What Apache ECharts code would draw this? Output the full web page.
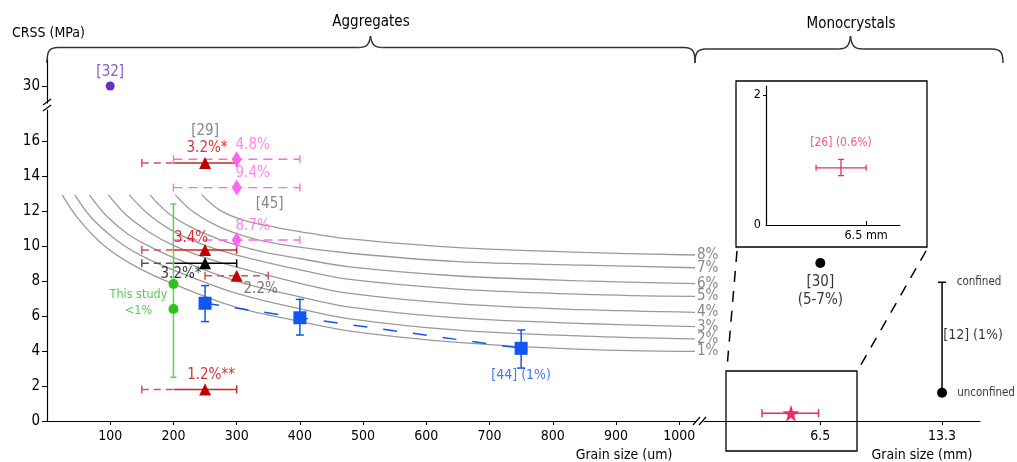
<!DOCTYPE html>
<html><head><meta charset="utf-8">
<script src="https://cdn.jsdelivr.net/npm/echarts@6/dist/echarts.min.js"></script>
<style>html,body{margin:0;padding:0;background:#fff}#c{width:1017px;height:462px}</style>
</head><body><div id="c"></div>
<script>
const FONT = "'DejaVu Sans Condensed','DejaVu Sans',sans-serif";

// ---- tick labels ----
const xTicksUm = [100, 200, 300, 400, 500, 600, 700, 800, 900, 1000];
const yTicks = [0, 2, 4, 6, 8, 10, 12, 14, 16];
const yTicksTop = [30];
const xTicksMm = [6.5, 13.3];
const insetXTicks = [6.5];
const insetYTicks = [0, 2];

// ---- model curves (grain size um, CRSS MPa) ----
const curveNames = ['1%', '2%', '3%', '4%', '5%', '6%', '7%', '8%'];
const curve1 = [[24,12.94],[50,11.55],[90,10.05],[140,8.85],[200,7.84],[300,6.5],[400,5.7],[479,5.15],[650,4.5],[848,4.1],[1025,3.98]];
const curve2 = [[44,12.94],[70,11.65],[110,10.35],[150,9.45],[200,8.64],[300,7.3],[400,6.42],[479,5.85],[650,5.2],[848,4.86],[1025,4.7]];
const curve3 = [[67,12.94],[95,11.7],[130,10.65],[170,9.85],[200,9.35],[300,8.0],[400,7.1],[479,6.52],[650,5.9],[848,5.58],[1025,5.4]];
const curve4 = [[97,12.94],[125,11.8],[160,10.85],[200,10.05],[250,9.35],[300,8.8],[400,7.88],[479,7.3],[650,6.7],[848,6.37],[1025,6.22]];
const curve5 = [[130,12.94],[160,11.85],[200,10.85],[250,10.05],[300,9.5],[400,8.65],[479,8.1],[650,7.55],[848,7.25],[1025,7.13]];
const curve6 = [[163,12.94],[190,11.95],[230,11.05],[280,10.3],[340,9.7],[400,9.3],[479,8.82],[650,8.3],[848,8.02],[1025,7.86]];
const curve7 = [[203,12.94],[230,12.0],[270,11.15],[320,10.5],[380,10.05],[479,9.6],[650,9.12],[848,8.92],[1025,8.77]];
const curve8 = [[245,12.94],[272,12.1],[310,11.5],[360,11.1],[420,10.72],[479,10.42],[650,9.92],[848,9.65],[1025,9.5]];
const curves = [curve1, curve2, curve3, curve4, curve5, curve6, curve7, curve8];

// ---- [32] ----
const ref32D = [100];
const ref32V = [30];

// ---- triangles ([29] etc.) ----
const triD = [250, 250, 250, 300, 250];
const triV = [14.77, 9.79, 9.03, 8.32, 1.81];
const triDashLo = [150, 150, 150, 250, 150];
const triDashHi = [200, 200, 200, 350, 200];
const triSolidLo = [200, 200, 200, null, 200];
const triSolidHi = [300, 300, 300, null, 300];
const triLabels = ['3.2%*', '3.4%', '3.2%*', '2.2%', '1.2%**'];

// ---- diamonds ([45]) ----
const diaD = [300, 300, 300];
const diaV = [14.98, 13.36, 10.36];
const diaLo = [200, 200, 200];
const diaHi = [400, 400, 400];
const diaLabels = ['4.8%', '9.4%', '8.7%'];

// ---- this study ----
const gD = 200;
const gV = [7.84, 6.41];
const gLo = 2.5, gHi = 12.42;

// ---- [44] ----
const bD = [250, 400, 750];
const bV = [6.74, 5.91, 4.16];
const bLo = [5.69, 4.92, 3.03];
const bHi = [7.75, 6.96, 5.21];

// ---- monocrystals (grain size mm) ----
const ref30D = [6.5], ref30V = [9.04];
const ref12D = 13.3, ref12Lo = 1.62, ref12Hi = 7.94;
const starD = 4.86, starV = 0.45, starLo = 3.24, starHi = 6.4;
const insD = 4.87, insV = 0.88, insXLo = 3.25, insXHi = 6.5, insYLo = 0.76, insYHi = 1.01;

// ---- colours ----
const RED = '#c00000', RED_L = '#c92525', RED_D = '#d65050';
const PINK = '#ff66ee', BLUE = '#1155f5', GREEN = '#2cc21a', GREEN_L = '#66cc55';
const PURPLE = '#6a2ec2', CRIMSON = '#e62e66', GRAY_T = '#666';

function errBars(gi, items, color, opts) {
  opts = opts || {};
  return {
    type: 'custom', xAxisIndex: gi, yAxisIndex: gi, z: opts.z || 3, silent: true,
    data: items,
    renderItem: function (params, api) {
      const a = api.coord([api.value(0), api.value(1)]);
      const b = api.coord([api.value(2), api.value(3)]);
      const c = opts.cap || 4;
      const lw = opts.width || 1.5;
      const horiz = Math.abs(a[1] - b[1]) < 0.5;
      const ch = [{ type: 'line', shape: { x1: a[0], y1: a[1], x2: b[0], y2: b[1] },
        style: { stroke: color, lineWidth: lw, lineDash: opts.dash || null, fill: null } }];
      function cap(p) {
        ch.push({ type: 'line', shape: horiz ? { x1: p[0], y1: p[1] - c, x2: p[0], y2: p[1] + c }
                                            : { x1: p[0] - c, y1: p[1], x2: p[0] + c, y2: p[1] },
          style: { stroke: color, lineWidth: lw, fill: null } });
      }
      if (api.value(4)) cap(a);
      if (api.value(5)) cap(b);
      return { type: 'group', children: ch };
    }
  };
}

function marks(gi, data, symbol, size, color, z) {
  return { type: 'scatter', xAxisIndex: gi, yAxisIndex: gi, symbol: symbol, symbolSize: size,
    itemStyle: { color: color, opacity: 1 }, z: z || 5, silent: true, data: data };
}

function lbl(gi, x, y, text, color, offset, size, extra) {
  return { type: 'scatter', xAxisIndex: gi, yAxisIndex: gi, symbolSize: 1, silent: true, z: 10,
    itemStyle: { color: 'rgba(0,0,0,0)' }, data: [[x, y]],
    label: Object.assign({ show: true, position: 'inside', offset: offset, formatter: text, color: color,
      fontSize: size || 15, fontFamily: FONT }, extra || {}) };
}

const series = [];

curves.forEach(function (c, i) {
  series.push({ type: 'line', xAxisIndex: 1, yAxisIndex: 1, data: c, smooth: 0.35, symbol: 'none', silent: true, z: 2,
    lineStyle: { color: '#9a9a9a', width: 1.3 },
    endLabel: { show: true, formatter: curveNames[i], color: '#888', fontSize: 15, distance: 2, fontFamily: FONT } });
});

series.push({ type: 'line', xAxisIndex: 1, yAxisIndex: 1, data: bD.map(function (d, i) { return [d, bV[i]]; }),
  symbol: 'none', silent: true, z: 3, lineStyle: { color: BLUE, width: 1.5, type: [14, 16] } });

const redIdx = [0, 1, 3, 4], blkIdx = [2];
function triDash(idx) { return idx.map(function (i) { return [triDashLo[i], triV[i], triDashHi[i], triV[i], 1, triSolidLo[i] == null ? 1 : 0]; }); }
function triSolid(idx) { return idx.filter(function (i) { return triSolidLo[i] != null; }).map(function (i) { return [triSolidLo[i], triV[i], triSolidHi[i], triV[i], 0, 1]; }); }
series.push(errBars(1, triDash(redIdx), RED_D, { dash: [7, 5] }));
series.push(errBars(1, triSolid(redIdx), RED_L, {}));
series.push(errBars(1, triDash(blkIdx), '#555', { dash: [7, 5] }));
series.push(errBars(1, triSolid(blkIdx), '#000', {}));
series.push(errBars(1, diaD.map(function (d, i) { return [diaLo[i], diaV[i], diaHi[i], diaV[i], 1, 1]; }), PINK, { dash: [9, 6], width: 1.3 }));
series.push(errBars(1, [[gD, gLo, gD, gHi, 1, 1]], GREEN_L, { cap: 3 }));
series.push(errBars(1, bD.map(function (d, i) { return [d, bLo[i], d, bHi[i], 1, 1]; }), BLUE, { cap: 4 }));
series.push(errBars(2, [[ref12D, ref12Lo, ref12D, ref12Hi, 0, 1]], '#000', { cap: 4 }));
series.push(errBars(2, [[starLo, starV, starHi, starV, 1, 1]], CRIMSON, { cap: 4 }));
series.push(errBars(3, [[insXLo, insV, insXHi, insV, 1, 1], [insD, insYLo, insD, insYHi, 1, 1]], CRIMSON, { cap: 3, width: 1.3 }));

series.push(marks(0, ref32D.map(function (d, i) { return [d, ref32V[i]]; }), 'circle', 9, PURPLE));
series.push(marks(1, redIdx.map(function (i) { return [triD[i], triV[i]]; }), 'triangle', 12, RED));
series.push(marks(1, blkIdx.map(function (i) { return [triD[i], triV[i]]; }), 'triangle', 12, '#000'));
series.push(marks(1, diaD.map(function (d, i) { return [d, diaV[i]]; }), 'diamond', [10, 16], PINK));
series.push(marks(1, gV.map(function (v) { return [gD, v]; }), 'circle', 10, GREEN));
series.push(marks(1, bD.map(function (d, i) { return [d, bV[i]]; }), 'rect', 13, BLUE));
series.push(marks(2, ref30D.map(function (d, i) { return [d, ref30V[i]]; }), 'circle', 10, '#000'));
series.push(marks(2, [[ref12D, ref12Lo]], 'circle', 10, '#000'));
series.push(marks(2, [[starD, starV]], 'path://M50,0 L61,35 L98,35 L68,57 L79,91 L50,70 L21,91 L32,57 L2,35 L39,35 Z', 17, CRIMSON));

series.push(lbl(0, ref32D[0], ref32V[0], '[32]', PURPLE, [0, -14], 15));
const triLabelCfg = [
  { off: [2, -15], color: RED }, { off: [-14, -12], color: RED }, { off: [-24, 11], color: '#000' },
  { off: [24, 13], color: '#555' }, { off: [6, -14], color: RED }];
triLabels.forEach(function (t, i) { series.push(lbl(1, triD[i], triV[i], t, triLabelCfg[i].color, triLabelCfg[i].off, 15)); });
series.push(lbl(1, triD[0], triV[0], '[29]', GRAY_T, [0, -32], 15));
diaLabels.forEach(function (t, i) { series.push(lbl(1, diaD[i], diaV[i], t, PINK, [16, -14], 15)); });
series.push(lbl(1, diaD[2], diaV[2], '[45]', GRAY_T, [33, -36], 15));
series.push(lbl(1, gD, gV[0], 'This study\n<1%', GREEN, [-35, 19], 12.5, { lineHeight: 16, align: 'center' }));
series.push(lbl(1, bD[2], bV[2], '[44] (1%)', BLUE, [0, 27], 14));
series.push(lbl(3, insD, insV, '[26] (0.6%)', CRIMSON, [0, -25], 12));
series.push(lbl(2, ref30D[0], ref30V[0], '[30]\n(5-7%)', '#000', [0, 28], 15, { lineHeight: 18, align: 'center' }));
series.push(lbl(2, ref12D, ref12Hi, 'confined', '#000', [37, 0], 11.5));
series.push(lbl(2, ref12D, ref12Lo, 'unconfined', '#000', [44, 0], 11.5));
series.push(lbl(2, ref12D, (ref12Lo + ref12Hi) / 2, '[12] (1%)', '#000', [31, -2], 14));

const axisLineBlack = { show: true, lineStyle: { color: '#000', width: 1.2 } };

function brace(x0, x1, xm, yl, ytip, yend) {
  const st = { stroke: '#333', fill: null, lineWidth: 1.5 };
  return [
    { type: 'bezierCurve', shape: { x1: x0, y1: yend, cpx1: x0, cpy1: yl + 4, cpx2: x0 + 2, cpy2: yl, x2: x0 + 11, y2: yl }, style: st },
    { type: 'line', shape: { x1: x0 + 11, y1: yl, x2: xm - 12, y2: yl }, style: st },
    { type: 'bezierCurve', shape: { x1: xm - 12, y1: yl, cpx1: xm - 4, cpy1: yl, cpx2: xm - 1, cpy2: yl - 3, x2: xm, y2: ytip }, style: st },
    { type: 'bezierCurve', shape: { x1: xm, y1: ytip, cpx1: xm + 1, cpy1: yl - 3, cpx2: xm + 4, cpy2: yl, x2: xm + 12, y2: yl }, style: st },
    { type: 'line', shape: { x1: xm + 12, y1: yl, x2: x1 - 11, y2: yl }, style: st },
    { type: 'bezierCurve', shape: { x1: x1 - 11, y1: yl, cpx1: x1 - 2, cpy1: yl, cpx2: x1, cpy2: yl + 4, x2: x1, y2: yend }, style: st }
  ];
}

function txt(x, y, s, size, align) {
  return { type: 'text', x: x, y: y, style: { text: s, fill: '#000', font: size + 'px ' + FONT,
    textAlign: align, textVerticalAlign: 'middle', align: align, verticalAlign: 'middle' } };
}

const graphics = [].concat(
  brace(47, 695, 370.5, 47.5, 36, 63),
  brace(695, 1003, 850.5, 49, 36, 63),
  [
    txt(371, 22, 'Aggregates', 15, 'center'),
    txt(851, 24, 'Monocrystals', 15, 'center'),
    txt(12, 33, 'CRSS (MPa)', 14, 'left'),
    txt(624, 455, 'Grain size (um)', 14, 'center'),
    txt(922, 455, 'Grain size (mm)', 14, 'center'),
    { type: 'line', shape: { x1: 43, y1: 105, x2: 51, y2: 99 }, style: { stroke: '#000', lineWidth: 1.2 } },
    { type: 'line', shape: { x1: 43, y1: 111, x2: 51, y2: 105 }, style: { stroke: '#000', lineWidth: 1.2 } },
    { type: 'line', shape: { x1: 693, y1: 425, x2: 700, y2: 417 }, style: { stroke: '#000', lineWidth: 1.2 } },
    { type: 'line', shape: { x1: 699, y1: 425, x2: 706, y2: 417 }, style: { stroke: '#000', lineWidth: 1.2 } },
    { type: 'rect', shape: { x: 736, y: 81, width: 191, height: 166 }, style: { fill: null, stroke: '#000', lineWidth: 1.3 } },
    { type: 'rect', shape: { x: 726, y: 371, width: 131, height: 80 }, style: { fill: null, stroke: '#000', lineWidth: 1.3 } },
    { type: 'line', shape: { x1: 737, y1: 251, x2: 727.5, y2: 362 }, style: { stroke: '#000', lineWidth: 1.5, lineDash: [11, 9] } },
    { type: 'line', shape: { x1: 926, y1: 251, x2: 858, y2: 370 }, style: { stroke: '#000', lineWidth: 1.5, lineDash: [11, 9] } }
  ]
);

const plainNum = function (v) { return String(v); };

const option = {
  animation: false,
  backgroundColor: '#fff',
  textStyle: { fontFamily: FONT },
  grid: [
    { left: 47, top: 60, width: 648, height: 43, outerBoundsMode: 'none' },
    { left: 47, top: 110, width: 648, height: 311, outerBoundsMode: 'none' },
    { left: 704, top: 110, width: 276, height: 311, outerBoundsMode: 'none' },
    { left: 766, top: 86, width: 134, height: 139, outerBoundsMode: 'none' }
  ],
  xAxis: [
    { gridIndex: 0, type: 'value', min: 0, max: 1025, show: false },
    { gridIndex: 1, type: 'value', min: 0, max: 1025, axisLine: axisLineBlack, splitLine: { show: false },
      axisTick: { show: true, length: 4, customValues: xTicksUm, lineStyle: { color: '#000' } },
      axisLabel: { customValues: xTicksUm, formatter: plainNum, color: '#000', fontSize: 14, margin: 8, fontFamily: FONT } },
    { gridIndex: 2, type: 'value', min: 0, max: 15.42, axisLine: axisLineBlack, splitLine: { show: false },
      axisTick: { show: true, length: 4, customValues: xTicksMm, lineStyle: { color: '#000' } },
      axisLabel: { customValues: xTicksMm, formatter: plainNum, color: '#000', fontSize: 14, margin: 8, fontFamily: FONT } },
    { gridIndex: 3, type: 'value', min: 0, max: 8.7, axisLine: axisLineBlack, splitLine: { show: false },
      axisTick: { show: true, inside: true, length: 4, customValues: insetXTicks, lineStyle: { color: '#000' } },
      axisLabel: { customValues: insetXTicks, formatter: '{value} mm', color: '#000', fontSize: 12.5, margin: 4, fontFamily: FONT } }
  ],
  yAxis: [
    { gridIndex: 0, type: 'value', min: 28, max: 33.06, axisLine: axisLineBlack, splitLine: { show: false },
      axisTick: { show: true, length: 5, customValues: yTicksTop, lineStyle: { color: '#000' } },
      axisLabel: { customValues: yTicksTop, formatter: plainNum, color: '#000', fontSize: 15, margin: 7, fontFamily: FONT } },
    { gridIndex: 1, type: 'value', min: 0, max: 17.8, axisLine: axisLineBlack, splitLine: { show: false },
      axisTick: { show: true, length: 5, customValues: yTicks, lineStyle: { color: '#000' } },
      axisLabel: { customValues: yTicks, formatter: plainNum, color: '#000', fontSize: 15, margin: 7, fontFamily: FONT } },
    { gridIndex: 2, type: 'value', min: 0, max: 17.8, show: false },
    { gridIndex: 3, type: 'value', min: 0, max: 2.14, axisLine: axisLineBlack, splitLine: { show: false },
      axisTick: { show: true, length: 3, customValues: [2], lineStyle: { color: '#000' } },
      axisLabel: { customValues: insetYTicks, color: '#000', fontSize: 12.5, margin: 5, fontFamily: FONT } }
  ],
  series: series,
  graphic: graphics
};

const chart = echarts.init(document.getElementById('c'), null, { renderer: 'canvas' });
chart.setOption(option);
</script>
</body></html>
